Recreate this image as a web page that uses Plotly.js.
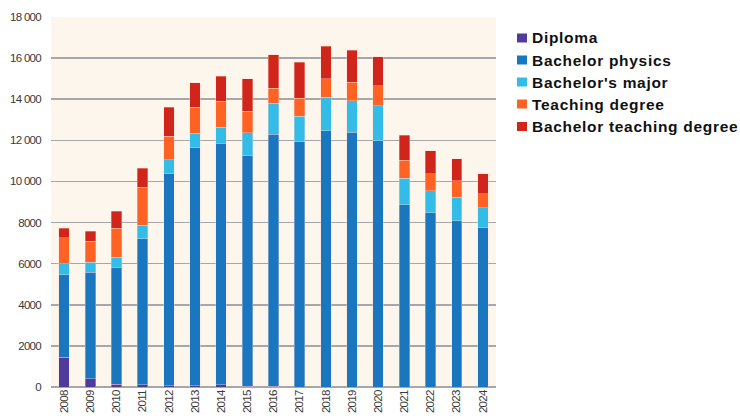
<!DOCTYPE html>
<html>
<head>
<meta charset="utf-8">
<script src="https://cdn.plot.ly/plotly-3.0.1.min.js"></script>
<style>html,body{margin:0;padding:0;background:#fff;}#chart{width:740px;height:419px;}</style>
</head>
<body>
<div id="chart"></div>
<script>
const years = ["2008","2009","2010","2011","2012","2013","2014","2015","2016","2017","2018","2019","2020","2021","2022","2023","2024"];
const diploma = [1450,400,130,110,60,50,110,40,40,0,0,0,0,0,0,0,0];
const bachelorPhysics = [4015,5190,5706,7110,10325,11582,11751,11202,12245,11925,12460,12382,11973,8875,8466,8076,7755];
const bachelorsMajor = [535,475,487,650,663,701,765,1121,1510,1251,1641,1539,1705,1281,1091,1154,954];
const teachingDegree = [1250,1020,1412,1850,1154,1282,1281,1057,745,862,892,911,974,877,809,814,682];
const bachelorTeaching = [485,490,814,920,1413,1184,1203,1573,1615,1754,1593,1559,1414,1203,1120,1071,994];
const seriesNames = ["Diploma","Bachelor physics","Bachelor's major","Teaching degree","Bachelor teaching degree"];
const yTickVals = [0,2000,4000,6000,8000,10000,12000,14000,16000,18000];
const yTickText = ["0","2000","4000","6000","8000","10 000","12 000","14 000","16 000","18 000"];

const colors = ["#4f3b9c","#1b76c0","#34bce9","#ff6222","#d1241a"];
const data = [diploma,bachelorPhysics,bachelorsMajor,teachingDegree,bachelorTeaching].map((v,i)=>({
  type:'bar', x:years, y:v, name:seriesNames[i],
  marker:{color:colors[i], line:{color:'rgba(255,220,210,0.6)', width:0.6}},
  hoverinfo:'none', showlegend:false
}));

// legend drawn as squares + labels (plot area: x 51..496 px, y 17..387 px)
const L = 51, W = 445, B = 387, H = 370;
const px = v => (v - L) / W;
const py = v => (B - v) / H;
const rowY = [38, 60, 82, 104, 126.5];
const shapes = [], annotations = [];
seriesNames.forEach((n,i)=>{
  shapes.push({type:'rect', xref:'paper', yref:'paper', x0:px(517), x1:px(527), y0:py(rowY[i]+4.5), y1:py(rowY[i]-4.5),
    fillcolor:colors[i], line:{width:0}});
  annotations.push({xref:'paper', yref:'paper', x:px(530), y:py(rowY[i]), xanchor:'left', yanchor:'middle', align:'left',
    text:'<b>'+n+'</b>', showarrow:false, font:{family:'"Liberation Sans",Arial,sans-serif', size:15.5, color:'#111'}});
});

const tickFont = {family:'"Liberation Sans",Arial,sans-serif', size:11.5, color:'#3a3a3a'};
const layout = {
  width:740, height:419,
  margin:{l:51, r:244, t:17, b:32, pad:0},
  paper_bgcolor:'#ffffff', plot_bgcolor:'#fdf6ec',
  barmode:'stack', bargap:0.6,
  showlegend:false,
  shapes:shapes, annotations:annotations,
  xaxis:{type:'category', tickangle:-90, tickfont:tickFont, showgrid:false, zeroline:false,
    showline:false, ticks:'', fixedrange:true},
  yaxis:{range:[0,18000], tickvals:yTickVals, ticktext:yTickText, tickfont:tickFont,
    showgrid:true, gridcolor:'#a7a7a7', gridwidth:1.5, zeroline:true, zerolinecolor:'#a7a7a7', zerolinewidth:1.5,
    ticks:'', ticklabelstandoff:9, fixedrange:true}
};
Plotly.newPlot('chart', data, layout, {displayModeBar:false, staticPlot:true}).then(()=>{
  document.querySelectorAll('.annotation-text').forEach(t=>{t.style.letterSpacing='0.7px';});
  document.querySelectorAll('.xtick text, .ytick text').forEach(t=>{t.style.letterSpacing='-0.7px';});
});
</script>
</body>
</html>
